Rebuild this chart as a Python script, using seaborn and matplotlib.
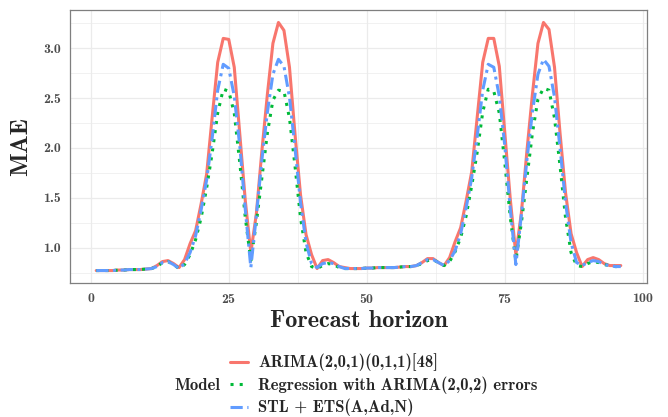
import numpy as np
import pandas as pd
import seaborn as sns
import matplotlib.pyplot as plt
from matplotlib.lines import Line2D

# horizonte de previsao (meia-hora, 2 dias)
horizon = list(range(1, 97))

arima = [0.77, 0.77, 0.77, 0.77, 0.775, 0.775, 0.78, 0.78, 0.78, 0.785,
         0.79, 0.82, 0.86, 0.87, 0.84, 0.80, 0.88, 1.04, 1.17, 1.44,
         1.74, 2.31, 2.86, 3.10, 3.09, 2.81, 2.14, 1.47, 0.95, 1.34,
         1.97, 2.54, 3.05, 3.26, 3.18, 2.81, 2.14, 1.53, 1.13, 0.93,
         0.79, 0.87, 0.88, 0.85, 0.81, 0.80, 0.79, 0.79, 0.79, 0.795,
         0.795, 0.80, 0.80, 0.80, 0.80, 0.805, 0.81, 0.81, 0.82, 0.85,
         0.89, 0.89, 0.85, 0.82, 0.90, 1.06, 1.20, 1.47, 1.76, 2.31,
         2.86, 3.10, 3.10, 2.82, 2.15, 1.48, 0.93, 1.35, 1.97, 2.54,
         3.05, 3.26, 3.19, 2.81, 2.15, 1.55, 1.14, 0.95, 0.81, 0.88,
         0.90, 0.88, 0.84, 0.82, 0.82, 0.82]

regression = [0.77, 0.77, 0.77, 0.77, 0.775, 0.775, 0.78, 0.78, 0.78, 0.785,
              0.79, 0.81, 0.85, 0.86, 0.83, 0.79, 0.83, 0.93, 1.08, 1.30,
              1.60, 1.95, 2.35, 2.59, 2.57, 2.35, 1.85, 1.30, 0.87, 1.25,
              1.70, 2.15, 2.48, 2.58, 2.57, 2.30, 1.82, 1.30, 0.95, 0.81,
              0.79, 0.82, 0.84, 0.83, 0.80, 0.79, 0.79, 0.79, 0.79, 0.795,
              0.795, 0.80, 0.80, 0.80, 0.80, 0.805, 0.81, 0.81, 0.82, 0.84,
              0.87, 0.88, 0.85, 0.82, 0.86, 0.96, 1.10, 1.32, 1.62, 1.96,
              2.36, 2.59, 2.57, 2.35, 1.85, 1.30, 0.87, 1.25, 1.70, 2.15,
              2.49, 2.60, 2.58, 2.30, 1.82, 1.30, 0.95, 0.82, 0.81, 0.84,
              0.86, 0.85, 0.83, 0.82, 0.81, 0.81]

stl_ets = [0.77, 0.77, 0.77, 0.77, 0.775, 0.775, 0.78, 0.78, 0.78, 0.785,
           0.79, 0.81, 0.85, 0.86, 0.83, 0.79, 0.84, 0.95, 1.12, 1.38,
           1.68, 2.10, 2.58, 2.84, 2.80, 2.52, 2.02, 1.38, 0.80, 1.32,
           1.88, 2.36, 2.74, 2.89, 2.82, 2.51, 2.00, 1.45, 1.05, 0.84,
           0.80, 0.84, 0.85, 0.84, 0.81, 0.79, 0.79, 0.79, 0.79, 0.795,
           0.795, 0.80, 0.80, 0.80, 0.80, 0.805, 0.81, 0.81, 0.82, 0.85,
           0.88, 0.88, 0.85, 0.82, 0.87, 0.97, 1.14, 1.40, 1.70, 2.12,
           2.58, 2.84, 2.81, 2.52, 2.02, 1.38, 0.83, 1.33, 1.88, 2.36,
           2.74, 2.89, 2.82, 2.51, 2.00, 1.45, 1.05, 0.85, 0.82, 0.85,
           0.87, 0.86, 0.83, 0.82, 0.81, 0.81]

modelos = ["ARIMA(2,0,1)(0,1,1)[48]",
           "Regression with ARIMA(2,0,2) errors",
           "STL + ETS(A,Ad,N)"]
cores = ["#F8766D", "#00BA38", "#619CFF"]
tracos = ["", (1, 2), (4, 1.5, 1, 1.5)]

df = pd.DataFrame({
    "h": horizon * 3,
    "MAE": arima + regression + stl_ets,
    "Model": [modelos[0]] * 96 + [modelos[1]] * 96 + [modelos[2]] * 96,
})

sns.set_theme(style="whitegrid")
plt.rcParams["font.family"] = ["cmb10", "DejaVu Serif"]
plt.rcParams["axes.unicode_minus"] = False
plt.rcParams["axes.formatter.use_mathtext"] = True

fig, ax = plt.subplots(figsize=(6.68, 4.17), dpi=100)
fig.subplots_adjust(left=70 / 668, right=647 / 668, top=1 - 10 / 417, bottom=1 - 283 / 417)

sns.lineplot(data=df, x="h", y="MAE", hue="Model", style="Model",
             palette=dict(zip(modelos, cores)), dashes=dict(zip(modelos, tracos)),
             linewidth=2.2, legend=False, ax=ax)

ax.set_xlim(-3.75, 100.75)
ax.set_ylim(0.645, 3.385)
ax.set_xticks([0, 25, 50, 75, 100])
ax.set_yticks([1.0, 1.5, 2.0, 2.5, 3.0])
ax.set_xticks([12.5, 37.5, 62.5, 87.5], minor=True)
ax.set_yticks([0.75, 1.25, 1.75, 2.25, 2.75, 3.25], minor=True)
ax.set_yticklabels(["1.0", "1.5", "2.0", "2.5", "3.0"])
ax.grid(which="major", color="#EBEBEB", linewidth=0.9)
ax.grid(which="minor", color="#EBEBEB", linewidth=0.5)
ax.set_facecolor("white")
for s in ax.spines.values():
    s.set_color("#7F7F7F")
    s.set_linewidth(0.9)
ax.tick_params(which="major", length=3.5, width=0.8, color="#7F7F7F",
               labelsize=10, labelcolor="#4D4D4D", pad=3)
ax.tick_params(which="minor", length=0)

ax.set_xlabel("Forecast horizon", fontsize=17.5, labelpad=3)
ax.set_ylabel("MAE", fontsize=18, labelpad=8)

handles = [Line2D([], [], color=c, linewidth=2.2, linestyle=(0, t) if t else "-")
           for c, t in zip(cores, tracos)]
fig.legend(handles, modelos, loc="center left", bbox_to_anchor=(230 / 668, 1 - 385 / 417),
           frameon=False, fontsize=12, handlelength=1.1, handletextpad=0.6,
           labelspacing=0.3, borderaxespad=0, borderpad=0)
fig.text(174 / 668, 1 - 385 / 417, "Model", fontsize=12, va="center", ha="left")

plt.savefig("out.png", dpi=100)
